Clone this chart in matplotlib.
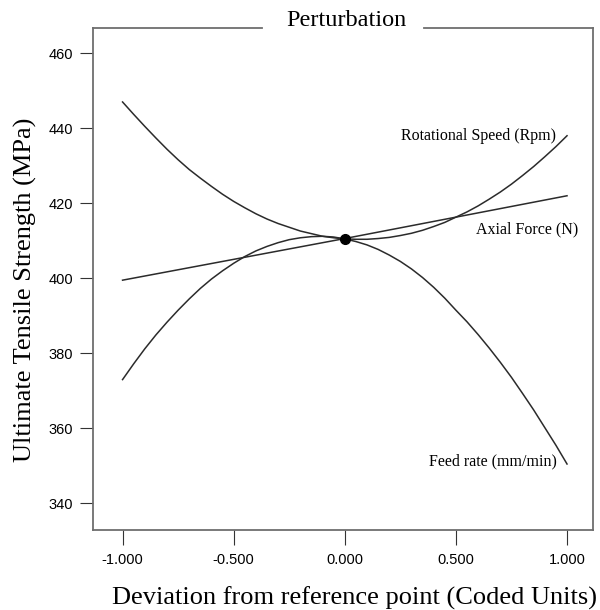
import matplotlib
matplotlib.use("Agg")
import matplotlib.pyplot as plt
from matplotlib.lines import Line2D

# values
x_dev = [-1.0, -0.95, -0.9, -0.85, -0.8, -0.75, -0.7, -0.65, -0.6, -0.55, -0.5,
         -0.45, -0.4, -0.35, -0.3, -0.25, -0.2, -0.15, -0.1, -0.05, 0.0,
         0.05, 0.1, 0.15, 0.2, 0.25, 0.3, 0.35, 0.4, 0.45, 0.5,
         0.55, 0.6, 0.65, 0.7, 0.75, 0.8, 0.85, 0.9, 0.95, 1.0]
rot_speed = [447.0, 443.7, 440.5, 437.4, 434.4, 431.6, 429.0, 426.7, 424.5, 422.4, 420.5,
             418.8, 417.2, 415.8, 414.6, 413.6, 412.6, 411.9, 411.2, 410.8, 410.5,
             410.4, 410.4, 410.6, 410.9, 411.4, 412.0, 412.8, 413.8, 414.9, 416.3,
             417.7, 419.3, 421.1, 423.0, 425.1, 427.4, 429.8, 432.4, 435.1, 438.0]
feed_rate = [373.0, 377.2, 381.2, 384.9, 388.3, 391.5, 394.5, 397.3, 399.8, 402.0, 404.0,
             405.8, 407.3, 408.5, 409.5, 410.3, 410.8, 411.1, 411.2, 411.0, 410.5,
             409.8, 408.9, 407.7, 406.2, 404.5, 402.5, 400.2, 397.6, 394.7, 391.5,
             388.4, 385.0, 381.4, 377.6, 373.6, 369.3, 364.9, 360.2, 355.5, 350.5]
x_axial = [-1.0, 0.0, 1.0]
axial_force = [399.5, 410.6, 422.0]

ref_x, ref_y = 0.0, 410.5

x_ticks = [-1.0, -0.5, 0.0, 0.5, 1.0]
x_tick_labels = ["-1.000", "-0.500", "0.000", "0.500", "1.000"]
y_ticks = [340, 360, 380, 400, 420, 440, 460]

serif = ["Liberation Serif", "DejaVu Serif"]
sans = ["Liberation Sans", "DejaVu Sans"]

fig = plt.figure(figsize=(6.0, 6.1), dpi=100)
ax = fig.add_axes([0.155, 0.1311, 0.833, 0.8235])

line_col = "#2b2b2b"
ax.plot(x_dev, rot_speed, color=line_col, lw=1.1)
ax.plot(x_dev, feed_rate, color=line_col, lw=1.1)
ax.plot(x_axial, axial_force, color=line_col, lw=1.1)
ax.plot([ref_x], [ref_y], "o", color="black", ms=7, zorder=5)

ax.set_xlim(-1.133, 1.116)
ax.set_ylim(332.9, 466.8)

ax.set_xticks(x_ticks)
ax.set_xticklabels(x_tick_labels)
ax.set_yticks(y_ticks)
for lab in ax.get_xticklabels() + ax.get_yticklabels():
    lab.set_family(sans)
    lab.set_fontsize(10.5)
ax.tick_params(axis="x", direction="out", length=10.5, width=0.8, color="#333333", pad=6)
ax.tick_params(axis="y", direction="out", length=9.3, width=0.8, color="#333333", pad=5)

# frame: gray, with a gap in the top edge for the title
spine_col = "#6e6e6e"
for side in ["left", "right", "bottom"]:
    ax.spines[side].set_color(spine_col)
    ax.spines[side].set_linewidth(1.3)
ax.spines["top"].set_visible(False)
for x0, x1 in [(0.0, 0.339), (0.662, 1.0)]:
    ax.add_line(Line2D([x0, x1], [1.0, 1.0], transform=ax.transAxes,
                       color=spine_col, lw=1.3, clip_on=False))

ax.text(0.507, 1.003, "Perturbation", transform=ax.transAxes, ha="center",
        va="baseline", family=serif, fontsize=17.5)

ax.set_xlabel("Deviation from reference point (Coded Units)", family=serif, fontsize=19)
ax.set_ylabel("Ultimate Tensile Strength (MPa)", family=serif, fontsize=19)
ax.xaxis.set_label_coords(0.523, -0.135)
ax.yaxis.set_label_coords(-0.136, 0.478)
ax.xaxis.label.set_va("center")
ax.yaxis.label.set_va("center")

ax.text(0.952, 437.8, "Rotational Speed (Rpm)", ha="right", va="center", family=serif, fontsize=11.5)
ax.text(1.049, 413.1, "Axial Force (N)", ha="right", va="center", family=serif, fontsize=11.5)
ax.text(0.955, 351.1, "Feed rate (mm/min)", ha="right", va="center", family=serif, fontsize=11.5)

fig.savefig("out.png", dpi=100)
